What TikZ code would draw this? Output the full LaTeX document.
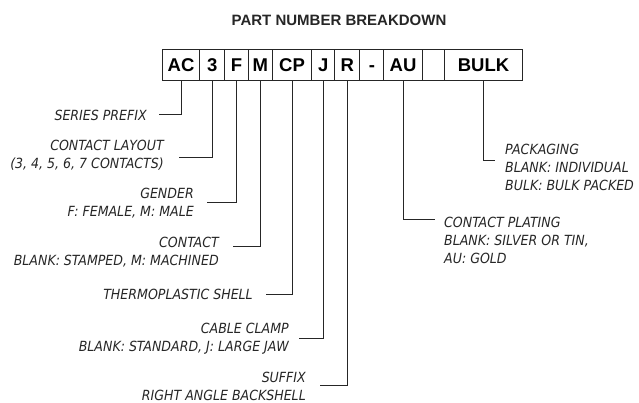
\documentclass[tikz,border=0pt]{standalone}
\usepackage{fontspec}
\setmainfont{Liberation Sans}
\newfontfamily\techfont{DejaVu Sans Condensed}
\begin{document}
\begin{tikzpicture}[x=1pt,y=-1pt,
  cell/.style={draw=black!85,line width=1.1pt,minimum height=31pt,inner sep=0pt,text height=13.3pt,text depth=0pt,font=\fontsize{18.5}{20}\selectfont\bfseries,anchor=north west},
  lbl/.style={inner sep=0pt,font=\techfont\itshape\fontsize{14}{18}\selectfont,text=black!85},
  lead/.style={draw=black!85,line width=1pt}]
\useasboundingbox (0,0) rectangle (639,403);
\node[font=\fontsize{15}{17}\selectfont\bfseries,text=black!85] (title) at (339,20) {PART NUMBER BREAKDOWN};
% boxes
\node[cell,minimum width=37.6pt] (ac) at (161.7,49) {AC};
\node[cell,minimum width=24.7pt] (n3) at (199.3,49) {3};
\node[cell,minimum width=23.7pt] (f) at (224,49) {F};
\node[cell,minimum width=24pt] (m) at (247.7,49) {M};
\node[cell,minimum width=39.6pt] (cp) at (271.7,49) {CP};
\node[cell,minimum width=23pt] (j) at (311.3,49) {J};
\node[cell,minimum width=25pt] (r) at (334.3,49) {R};
\node[cell,minimum width=24pt] (dash) at (359.3,49) {-};
\node[cell,minimum width=38.4pt] (au) at (383.3,49) {AU};
\node[cell,minimum width=22.6pt] (bl) at (421.7,49) {};
\node[cell,minimum width=77.4pt] (bulk) at (444.3,49) {BULK};
% labels
\node[lbl,anchor=east,align=right] (l1) at (147,115) {SERIES PREFIX};
\node[lbl,anchor=east,align=right] (l2) at (164,155.5) {CONTACT LAYOUT\\(3, 4, 5, 6, 7 CONTACTS)};
\node[lbl,anchor=east,align=right] (l3) at (194,203) {GENDER\\F: FEMALE, M: MALE};
\node[lbl,anchor=east,align=right] (l4) at (219,252) {CONTACT\\BLANK: STAMPED, M: MACHINED};
\node[lbl,anchor=east,align=right] (l5) at (253,294) {THERMOPLASTIC SHELL};
\node[lbl,anchor=east,align=right] (l6) at (289,338.5) {CABLE CLAMP\\BLANK: STANDARD, J: LARGE JAW};
\node[lbl,anchor=east,align=right] (l7) at (306,386) {SUFFIX\\RIGHT ANGLE BACKSHELL};
\node[lbl,anchor=west,align=left] (l8) at (444,240.7) {CONTACT PLATING\\BLANK: SILVER OR TIN,\\AU: GOLD};
\node[lbl,anchor=west,align=left] (l9) at (505,167.7) {PACKAGING\\BLANK: INDIVIDUAL\\BULK: BULK PACKED};
% leader ends
\coordinate (e1) at (159,115);
\coordinate (e2) at (179,157.7);
\coordinate (e3) at (207,202.7);
\coordinate (e4) at (233,246.7);
\coordinate (e5) at (266,294);
\coordinate (e6) at (299,338);
\coordinate (e7) at (320,385.7);
\coordinate (e8) at (435,219.3);
\coordinate (e9) at (495,161);
\draw[lead] (ac.south) |- (e1);
\draw[lead] (n3.south) |- (e2);
\draw[lead] (f.south) |- (e3);
\draw[lead] (m.south) |- (e4);
\draw[lead] (cp.south) |- (e5);
\draw[lead] (j.south) |- (e6);
\draw[lead] (r.south) |- (e7);
\draw[lead] (au.south) |- (e8);
\draw[lead] (bulk.south) |- (e9);
\end{tikzpicture}
\end{document}
